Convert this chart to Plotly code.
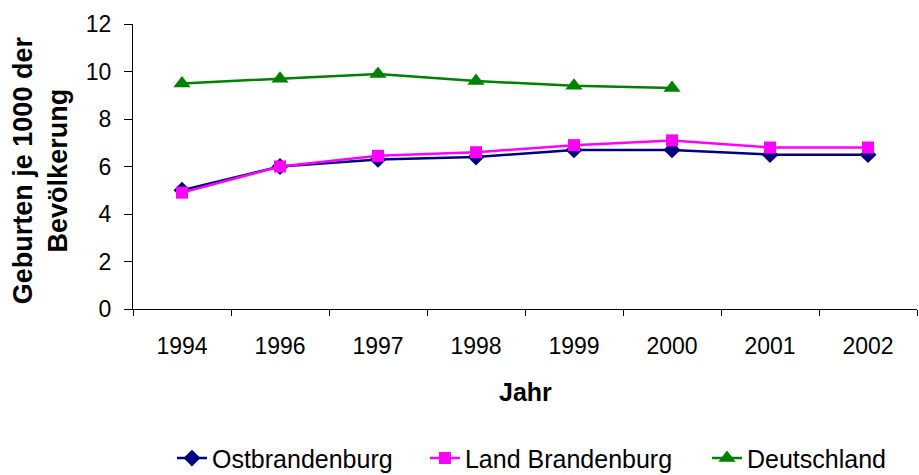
import plotly.graph_objects as go

years = ["1994", "1996", "1997", "1998", "1999", "2000", "2001", "2002"]
ostbrandenburg = [5.0, 6.0, 6.3, 6.4, 6.7, 6.7, 6.5, 6.5]
land_brandenburg = [4.9, 6.0, 6.45, 6.6, 6.9, 7.1, 6.8, 6.8]
deutschland = [9.5, 9.7, 9.9, 9.6, 9.4, 9.3, None, None]

FONT = "Liberation Sans, Arial, sans-serif"

fig = go.Figure()
fig.add_trace(go.Scatter(
    x=years, y=ostbrandenburg, name="Ostbrandenburg", mode="lines+markers",
    line=dict(color="#000080", width=2.5),
    marker=dict(symbol="diamond", size=13, color="#000080"),
    legend="legend",
))
fig.add_trace(go.Scatter(
    x=years, y=land_brandenburg, name="Land Brandenburg", mode="lines+markers",
    line=dict(color="#FF00FF", width=2.5),
    marker=dict(symbol="square", size=12, color="#FF00FF"),
    legend="legend2",
))
fig.add_trace(go.Scatter(
    x=years, y=deutschland, name="Deutschland", mode="lines+markers",
    line=dict(color="#008000", width=2.5),
    marker=dict(symbol="triangle-up", size=15, color="#008000"),
    legend="legend3",
))

def legend_at(xpos):
    return dict(
        orientation="h", x=xpos, xanchor="left", y=-0.524, yanchor="middle",
        font=dict(family=FONT, size=25, color="black"),
        bgcolor="rgba(0,0,0,0)",
    )

fig.update_layout(
    width=919, height=475,
    margin=dict(l=133, r=2, t=24, b=166, autoexpand=False),
    paper_bgcolor="white", plot_bgcolor="white",
    font=dict(family=FONT, size=23, color="black"),
    showlegend=True,
    legend=legend_at(0.0497),
    legend2=legend_at(0.3724),
    legend3=legend_at(0.7321),
    xaxis=dict(
        type="category", range=[-0.5, 7.5], automargin=False,
        showline=True, linecolor="black", linewidth=1,
        ticks="outside", tickson="boundaries", ticklen=6, tickcolor="black",
        showgrid=False, zeroline=False,
        tickfont=dict(family=FONT, size=23),
        ticklabelstandoff=16,
    ),
    yaxis=dict(
        range=[0, 12], dtick=2, automargin=False,
        showline=True, linecolor="black", linewidth=1,
        ticks="outside", ticklen=8, tickcolor="black",
        showgrid=False, zeroline=False,
        tickfont=dict(family=FONT, size=23),
        ticklabelstandoff=8,
    ),
    annotations=[
        dict(text="<b>Jahr</b>", xref="paper", yref="paper", x=0.5, y=-0.291,
             xanchor="center", yanchor="middle", showarrow=False,
             font=dict(family=FONT, size=25)),
        dict(text="<b>Geburten je 1000 der<br>Bevölkerung</b>", xref="paper", yref="paper",
             x=-0.117, y=0.488, xanchor="center", yanchor="middle", showarrow=False,
             textangle=-90, font=dict(family=FONT, size=27)),
    ],
)

fig.write_html(
    "out.html",
    config={"displayModeBar": False},
    post_script="document.body.style.margin='0';document.body.style.overflow='hidden';",
)
